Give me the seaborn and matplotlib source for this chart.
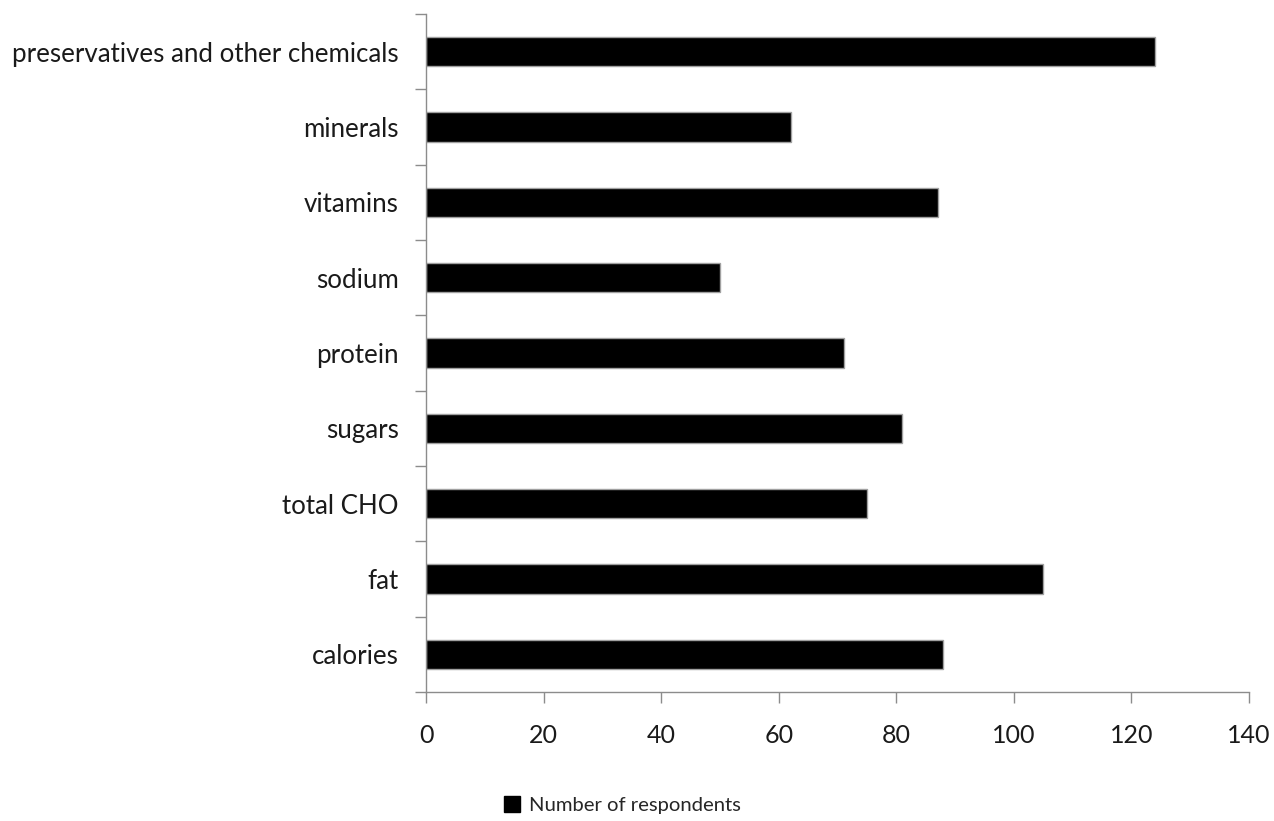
import matplotlib
matplotlib.use("Agg")
import matplotlib.pyplot as plt
import seaborn as sns
import numpy as np
import pandas as pd
from matplotlib.ticker import FixedLocator
from matplotlib.patches import Patch

categories = ["preservatives and other chemicals", "minerals", "vitamins", "sodium",
              "protein", "sugars", "total CHO", "fat", "calories"]
values = [124, 62, 87, 50, 71, 81, 75, 105, 88]
xticks = [0, 20, 40, 60, 80, 100, 120, 140]
series_name = "Number of respondents"

sns.set_theme(style="white")
plt.rcParams['font.family'] = ['Lato', 'DejaVu Sans']

df = pd.DataFrame({"category": categories, "value": values})

fig = plt.figure(figsize=(12.74, 8.21), dpi=100)
ax = fig.add_axes([0.3346, 0.1571, 0.9804 - 0.3346, 0.983 - 0.1571])

sns.barplot(data=df, x="value", y="category", orient="h", color="black",
            edgecolor="#a0a0a0", linewidth=1.0, width=0.39, ax=ax, saturation=1)

ax.set_xlim(0, 140)
ax.set_ylim(len(categories) - 0.5, -0.5)
ax.set_xticks(xticks)
ax.set_xticklabels([str(t) for t in xticks])
ax.set_xlabel("")
ax.set_ylabel("")

grey = "#8c8c8c"
for side in ["top", "right"]:
    ax.spines[side].set_visible(False)
for side in ["left", "bottom"]:
    ax.spines[side].set_color(grey)
    ax.spines[side].set_linewidth(1.0)

ax.yaxis.set_minor_locator(FixedLocator(np.arange(-0.5, len(categories), 1.0)))
ax.tick_params(axis="y", which="major", length=0, pad=20, labelsize=18.6, labelcolor="#1a1a1a")
ax.tick_params(axis="y", which="minor", length=8, width=1.0, color=grey, left=True)
ax.tick_params(axis="x", which="major", length=8, width=1.0, color=grey, bottom=True,
               pad=15, labelsize=18, labelcolor="#1a1a1a")

handle = Patch(facecolor="black", edgecolor="black", label=series_name)
fig.legend(handles=[handle], loc="center", bbox_to_anchor=(0.4885, 0.019), frameon=False,
           fontsize=14.6, handlelength=0.8, handleheight=0.8, handletextpad=0.4)

fig.savefig("out.png", dpi=100)
